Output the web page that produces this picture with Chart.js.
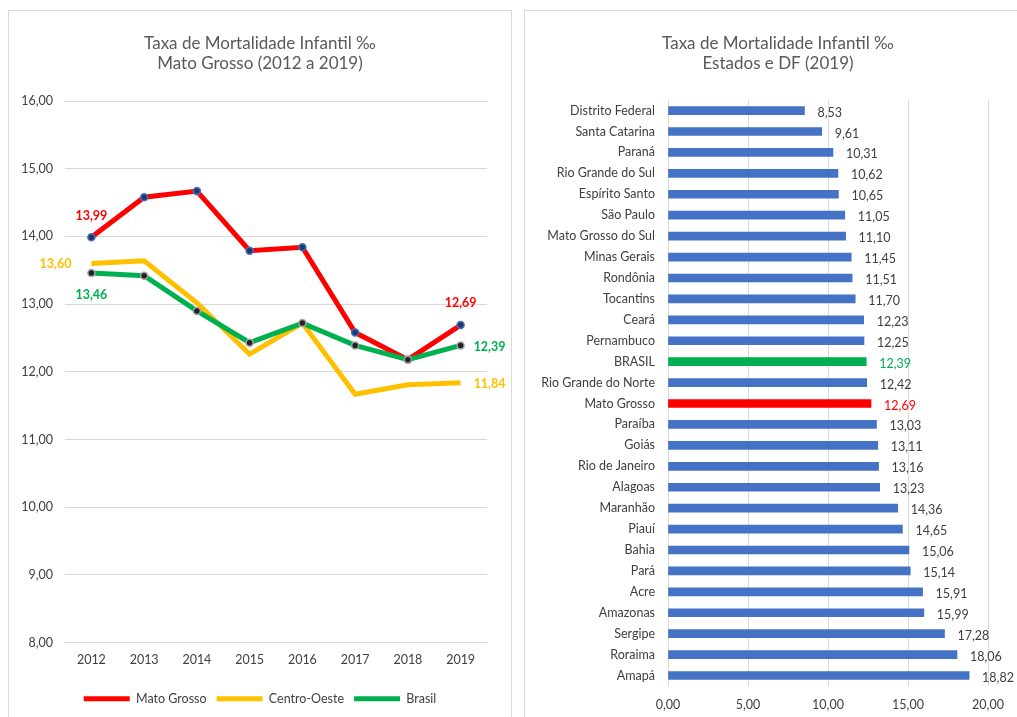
<!DOCTYPE html>
<html><head><meta charset="utf-8">
<script src="https://cdn.jsdelivr.net/npm/chart.js@4.4.0/dist/chart.umd.min.js"></script>
<style>
html,body{margin:0;padding:0;background:#fff;overflow:hidden;width:1017px;height:717px;}
.panel{position:absolute;border:1px solid #d9d9d9;background:#fff;box-sizing:border-box;}
#p1{left:8px;top:10px;width:504px;height:730px;}
#p2{left:524px;top:10px;width:530px;height:730px;}
canvas{position:absolute;}
</style></head>
<body>
<div class="panel" id="p1"></div>
<div class="panel" id="p2"></div>
<canvas id="c1" width="502" height="706" style="left:9px;top:11px"></canvas>
<canvas id="c2" width="506" height="706" style="left:525px;top:11px"></canvas>
<script>
// ---- Left chart data ----
const years = ['2012','2013','2014','2015','2016','2017','2018','2019'];
const matoGrosso  = [13.99, 14.58, 14.67, 13.79, 13.84, 12.58, 12.18, 12.69];
const centroOeste = [13.60, 13.64, 13.02, 12.26, 12.72, 11.67, 11.81, 11.84];
const brasil      = [13.46, 13.42, 12.90, 12.43, 12.72, 12.39, 12.18, 12.39];
const lineTitle = ['Taxa de Mortalidade Infantil \u2030', 'Mato Grosso (2012 a 2019)'];

// ---- Right chart data ----
const states = ['Distrito Federal','Santa Catarina','Paraná','Rio Grande do Sul','Espírito Santo','São Paulo','Mato Grosso do Sul','Minas Gerais','Rondônia','Tocantins','Ceará','Pernambuco','BRASIL','Rio Grande do Norte','Mato Grosso','Paraíba','Goiás','Rio de Janeiro','Alagoas','Maranhão','Piauí','Bahia','Pará','Acre','Amazonas','Sergipe','Roraima','Amapá'];
const rates2019 = [8.53,9.61,10.31,10.62,10.65,11.05,11.10,11.45,11.51,11.70,12.23,12.25,12.39,12.42,12.69,13.03,13.11,13.16,13.23,14.36,14.65,15.06,15.14,15.91,15.99,17.28,18.06,18.82];
const barTitle = ['Taxa de Mortalidade Infantil \u2030', 'Estados e DF (2019)'];

const FONT = 'Lato, "Open Sans", sans-serif';
const TICK = 12.5;
const fmt = v => Number(v).toFixed(2).replace('.', ',');
const RED = '#ff0000', YEL = '#ffc000', GRN = '#00b050', BLUE = '#4472c4';

// empty spacer axis on the right (keeps title/legend centred on the panel)
const spacer = w => ({
  axis: 'y', type: 'linear', position: 'right', display: true,
  grid: { display: false, drawTicks: false }, border: { display: false },
  ticks: { display: false }, afterFit(s) { s.width = w; }
});

// end labels for line chart
const endLabels = {
  id: 'endLabels',
  afterDatasetsDraw(chart) {
    const ctx = chart.ctx;
    const specs = [
      // datasetIndex, pointIndex, dx, dy, align
      [0, 0, 0, -21, 'center'],
      [0, 7, 0, -22, 'center'],
      [1, 0, -20, 0, 'right'],
      [1, 7, 13, 1, 'left'],
      [2, 0, 0, 22, 'center'],
      [2, 7, 13, 2, 'left']
    ];
    ctx.save();
    ctx.font = 'bold 12.5px ' + FONT;
    ctx.textBaseline = 'middle';
    specs.forEach(([d, i, dx, dy, al]) => {
      const meta = chart.getDatasetMeta(d);
      const pt = meta.data[i];
      const ds = chart.data.datasets[d];
      ctx.fillStyle = ds.borderColor;
      ctx.textAlign = al;
      ctx.fillText(fmt(ds.data[i]), pt.x + dx, pt.y + dy);
    });
    ctx.restore();
  }
};

new Chart(document.getElementById('c1'), {
  type: 'line',
  data: {
    labels: years,
    datasets: [
      { label: 'Mato Grosso', data: matoGrosso, borderColor: RED, backgroundColor: RED, borderWidth: 5,
        pointRadius: 3.5, pointBackgroundColor: '#1f3864', pointBorderColor: '#4472c4', pointBorderWidth: 1.5, order: 2, tension: 0, yAxisID: 'y' },
      { label: 'Centro-Oeste', data: centroOeste, borderColor: YEL, backgroundColor: YEL, borderWidth: 5,
        pointRadius: 0, order: 1, tension: 0, yAxisID: 'y' },
      { label: 'Brasil', data: brasil, borderColor: GRN, backgroundColor: GRN, borderWidth: 5,
        pointRadius: 3.5, pointBackgroundColor: '#222', pointBorderColor: '#a5a5a5', pointBorderWidth: 1.5, order: 0, tension: 0, yAxisID: 'y' }
    ]
  },
  options: {
    responsive: false, animation: false,
    layout: { padding: { left: 0, right: 0, top: 0, bottom: 2 } },
    plugins: {
      title: { display: true, text: lineTitle, color: '#595959', font: { family: FONT, size: 17, weight: 'normal', lineHeight: 1.18 },
        padding: { top: 22, bottom: 28 } },
      legend: {
        position: 'bottom',
        labels: {
          font: { family: FONT, size: TICK }, color: '#404040', boxWidth: 46, boxHeight: 5, padding: 10,
          generateLabels(chart) {
            return chart.data.datasets.map((ds, i) => ({
              text: ds.label, fillStyle: ds.borderColor, strokeStyle: ds.borderColor, lineWidth: 0,
              hidden: false, datasetIndex: i, fontColor: '#404040'
            }));
          }
        }
      },
      tooltip: { enabled: false }
    },
    scales: {
      x: {
        offset: true,
        grid: { display: false, drawTicks: false },
        border: { display: false },
        ticks: { font: { family: FONT, size: TICK }, color: '#404040', padding: 10 },
        afterFit(s) { s.height = 40; }
      },
      y: {
        position: 'left',
        min: 8, max: 16,
        grid: { color: '#d9d9d9', drawTicks: false },
        border: { display: false },
        ticks: { stepSize: 1, font: { family: FONT, size: TICK }, color: '#404040', padding: 12, callback: v => fmt(v) },
        afterFit(s) { s.width = 56; }
      },
      yR: spacer(24)
    }
  },
  plugins: [endLabels]
});

// ---- Right chart ----
const barColor = s => s === 'BRASIL' ? GRN : (s === 'Mato Grosso' ? RED : BLUE);
const labelColor = s => s === 'BRASIL' ? GRN : (s === 'Mato Grosso' ? RED : '#404040');

const barLabels = {
  id: 'barLabels',
  afterDatasetsDraw(chart) {
    const ctx = chart.ctx;
    const meta = chart.getDatasetMeta(0);
    ctx.save();
    ctx.font = TICK + 'px ' + FONT;
    ctx.textBaseline = 'middle';
    ctx.textAlign = 'left';
    meta.data.forEach((bar, i) => {
      ctx.fillStyle = labelColor(chart.data.labels[i]);
      ctx.fillText(fmt(chart.data.datasets[0].data[i]), bar.x + 13, bar.y + 2);
    });
    ctx.restore();
  }
};

new Chart(document.getElementById('c2'), {
  type: 'bar',
  data: {
    labels: states,
    datasets: [{ label: 'Taxa 2019', data: rates2019, backgroundColor: states.map(barColor), barThickness: 8, xAxisID: 'x', yAxisID: 'y' }]
  },
  options: {
    indexAxis: 'y',
    responsive: false, animation: false,
    layout: { padding: { left: 0, right: 0, top: 0, bottom: 0 } },
    plugins: {
      title: { display: true, text: barTitle, color: '#595959', font: { family: FONT, size: 17, weight: 'normal', lineHeight: 1.18 },
        padding: { top: 22, bottom: 27 } },
      legend: { display: false },
      tooltip: { enabled: false }
    },
    scales: {
      x: {
        min: 0, max: 20,
        grid: { color: '#d9d9d9', drawTicks: false },
        border: { display: false },
        ticks: { stepSize: 5, font: { family: FONT, size: TICK }, color: '#404040', padding: 11, callback: v => fmt(v) },
        afterFit(s) { s.height = 31; }
      },
      y: {
        position: 'left',
        grid: { display: false, drawTicks: false },
        border: { display: false },
        ticks: { font: { family: FONT, size: TICK }, color: '#404040', padding: 13, autoSkip: false },
        afterFit(s) { s.width = 143; }
      },
      yR: spacer(43)
    }
  },
  plugins: [barLabels]
});
</script>
</body></html>
